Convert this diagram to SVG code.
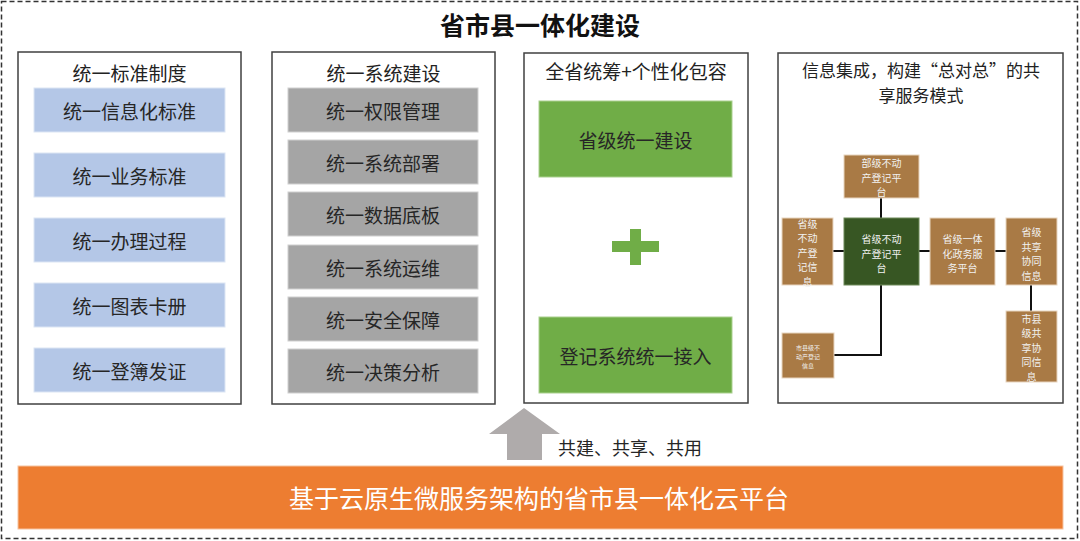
<svg xmlns="http://www.w3.org/2000/svg" width="1080" height="541" viewBox="0 0 1080 541">
<style>
text{font-family:"Noto Sans CJK SC","Noto Sans",sans-serif;dominant-baseline:central;text-anchor:middle}
.frame{fill:#fff;stroke:#404040;stroke-width:1.5}
.h{font-size:19px;fill:#222}
.blue{fill:#B4C7E7;stroke:#DCE5F4;stroke-width:1}
.gray{fill:#A5A5A5;stroke:#D0D0D0;stroke-width:1}
.green{fill:#70AD47;stroke:#A9D08E;stroke-width:1}
.t{font-size:19px;fill:#262626}
.brown{fill:#A97A45;stroke:#E8D5C0;stroke-width:1}
.dk{fill:#375623;stroke:#6E8A5A;stroke-width:1}
.s{font-size:10px;fill:#F2F2F2}
.xs{font-size:6px;fill:#F2F2F2}
.conn{fill:none;stroke:#111;stroke-width:2}
</style>
<rect x="0" y="0" width="1080" height="541" fill="#fff"/>
<rect id="outer" x="1.5" y="1.5" width="1076" height="537" fill="none" stroke="#333" stroke-width="1.5" stroke-dasharray="5,3"/>
<text x="540" y="24" style="font-size:25px;font-weight:bold;fill:#111">省市县一体化建设</text>

<g id="col1">
<rect class="frame" x="18" y="52" width="223" height="352"/>
<text class="h" x="129.5" y="72">统一标准制度</text>
<g id="c1n1"><rect class="blue" x="34" y="88" width="191" height="44"/><text class="t" x="129.5" y="110">统一信息化标准</text></g>
<g id="c1n2"><rect class="blue" x="34" y="153" width="191" height="44"/><text class="t" x="129.5" y="175">统一业务标准</text></g>
<g id="c1n3"><rect class="blue" x="34" y="218" width="191" height="44"/><text class="t" x="129.5" y="240">统一办理过程</text></g>
<g id="c1n4"><rect class="blue" x="34" y="283" width="191" height="44"/><text class="t" x="129.5" y="305">统一图表卡册</text></g>
<g id="c1n5"><rect class="blue" x="34" y="348" width="191" height="44"/><text class="t" x="129.5" y="370">统一登簿发证</text></g>
</g>

<g id="col2">
<rect class="frame" x="272" y="52" width="223" height="352"/>
<text class="h" x="383.5" y="72">统一系统建设</text>
<g id="c2n1"><rect class="gray" x="288" y="88" width="190" height="44"/><text class="t" x="383" y="110">统一权限管理</text></g>
<g id="c2n2"><rect class="gray" x="288" y="140" width="190" height="44"/><text class="t" x="383" y="162">统一系统部署</text></g>
<g id="c2n3"><rect class="gray" x="288" y="192" width="190" height="44"/><text class="t" x="383" y="214">统一数据底板</text></g>
<g id="c2n4"><rect class="gray" x="288" y="245" width="190" height="44"/><text class="t" x="383" y="267">统一系统运维</text></g>
<g id="c2n5"><rect class="gray" x="288" y="297" width="190" height="44"/><text class="t" x="383" y="319">统一安全保障</text></g>
<g id="c2n6"><rect class="gray" x="288" y="349" width="190" height="44"/><text class="t" x="383" y="371">统一决策分析</text></g>
</g>

<g id="col3">
<rect class="frame" x="524" y="53" width="224" height="350"/>
<text class="h" x="636" y="70">全省统筹+个性化包容</text>
<g id="c3n1"><rect class="green" x="539" y="101" width="193" height="76"/><text class="t" x="635.5" y="139">省级统一建设</text></g>
<g id="plus"><rect x="612" y="241" width="47" height="11" fill="#70AD47"/><rect x="630" y="229" width="11" height="36" fill="#70AD47"/></g>
<g id="c3n2"><rect class="green" x="539" y="317" width="193" height="76"/><text class="t" x="635.5" y="355">登记系统统一接入</text></g>
</g>

<g id="col4">
<rect class="frame" x="778" y="53" width="285" height="350"/>
<text class="h" x="921" y="69" style="font-size:17px">信息集成，构建“总对总”的共</text>
<text class="h" x="921" y="94" style="font-size:17px">享服务模式</text>
</g>

<g id="connectors">
<path class="conn" d="M881,198V218"/>
<path class="conn" d="M833,251H844"/>
<path class="conn" d="M919,251H930"/>
<path class="conn" d="M995,251H1006"/>
<path class="conn" d="M1031,285V311"/>
<path class="conn" d="M881,285V355H834"/>
</g>

<g id="n_bu"><rect class="brown" x="844" y="155" width="75" height="43"/>
<text class="s" x="881.5" y="162"><tspan x="881.5">部级不动</tspan><tspan x="881.5" dy="14.5">产登记平</tspan><tspan x="881.5" dy="14.5">台</tspan></text></g>
<g id="n_center"><rect class="dk" x="844" y="218" width="75" height="67"/>
<text class="s" x="881.5" y="238"><tspan x="881.5">省级不动</tspan><tspan x="881.5" dy="14.5">产登记平</tspan><tspan x="881.5" dy="14.5">台</tspan></text></g>
<g id="n_left"><rect class="brown" x="782" y="218" width="51" height="67"/>
<text class="s" x="807.5" y="222.5"><tspan x="807.5">省级</tspan><tspan x="807.5" dy="14.5">不动</tspan><tspan x="807.5" dy="14.5">产登</tspan><tspan x="807.5" dy="14.5">记信</tspan><tspan x="807.5" dy="14.5">息</tspan></text></g>
<g id="n_gov"><rect class="brown" x="930" y="218" width="65" height="67"/>
<text class="s" x="962.5" y="238"><tspan x="962.5">省级一体</tspan><tspan x="962.5" dy="14.5">化政务服</tspan><tspan x="962.5" dy="14.5">务平台</tspan></text></g>
<g id="n_share"><rect class="brown" x="1006" y="218" width="51" height="67"/>
<text class="s" x="1031.5" y="231"><tspan x="1031.5">省级</tspan><tspan x="1031.5" dy="14.5">共享</tspan><tspan x="1031.5" dy="14.5">协同</tspan><tspan x="1031.5" dy="14.5">信息</tspan></text></g>
<g id="n_cityshare"><rect class="brown" x="1006" y="311" width="51" height="71"/>
<text class="s" x="1031.5" y="317.5"><tspan x="1031.5">市县</tspan><tspan x="1031.5" dy="14.5">级共</tspan><tspan x="1031.5" dy="14.5">享协</tspan><tspan x="1031.5" dy="14.5">同信</tspan><tspan x="1031.5" dy="14.5">息</tspan></text></g>
<g id="n_city"><rect class="brown" x="782" y="333" width="52" height="45"/>
<text class="xs" x="808" y="346.5"><tspan x="808">市县级不</tspan><tspan x="808" dy="9">动产登记</tspan><tspan x="808" dy="9">信息</tspan></text></g>

<g id="arrow"><path d="M524,408L560,434H542V460H507V434H489Z" fill="#AFABAB"/></g>
<text x="558" y="447" style="font-size:18px;fill:#262626;text-anchor:start">共建、共享、共用</text>

<g id="platform"><rect x="18" y="466" width="1045" height="63" fill="#ED7D31" stroke="#F6C3A0" stroke-width="1"/>
<text x="539" y="497" style="font-size:25px;fill:#fff">基于云原生微服务架构的省市县一体化云平台</text></g>
</svg>
